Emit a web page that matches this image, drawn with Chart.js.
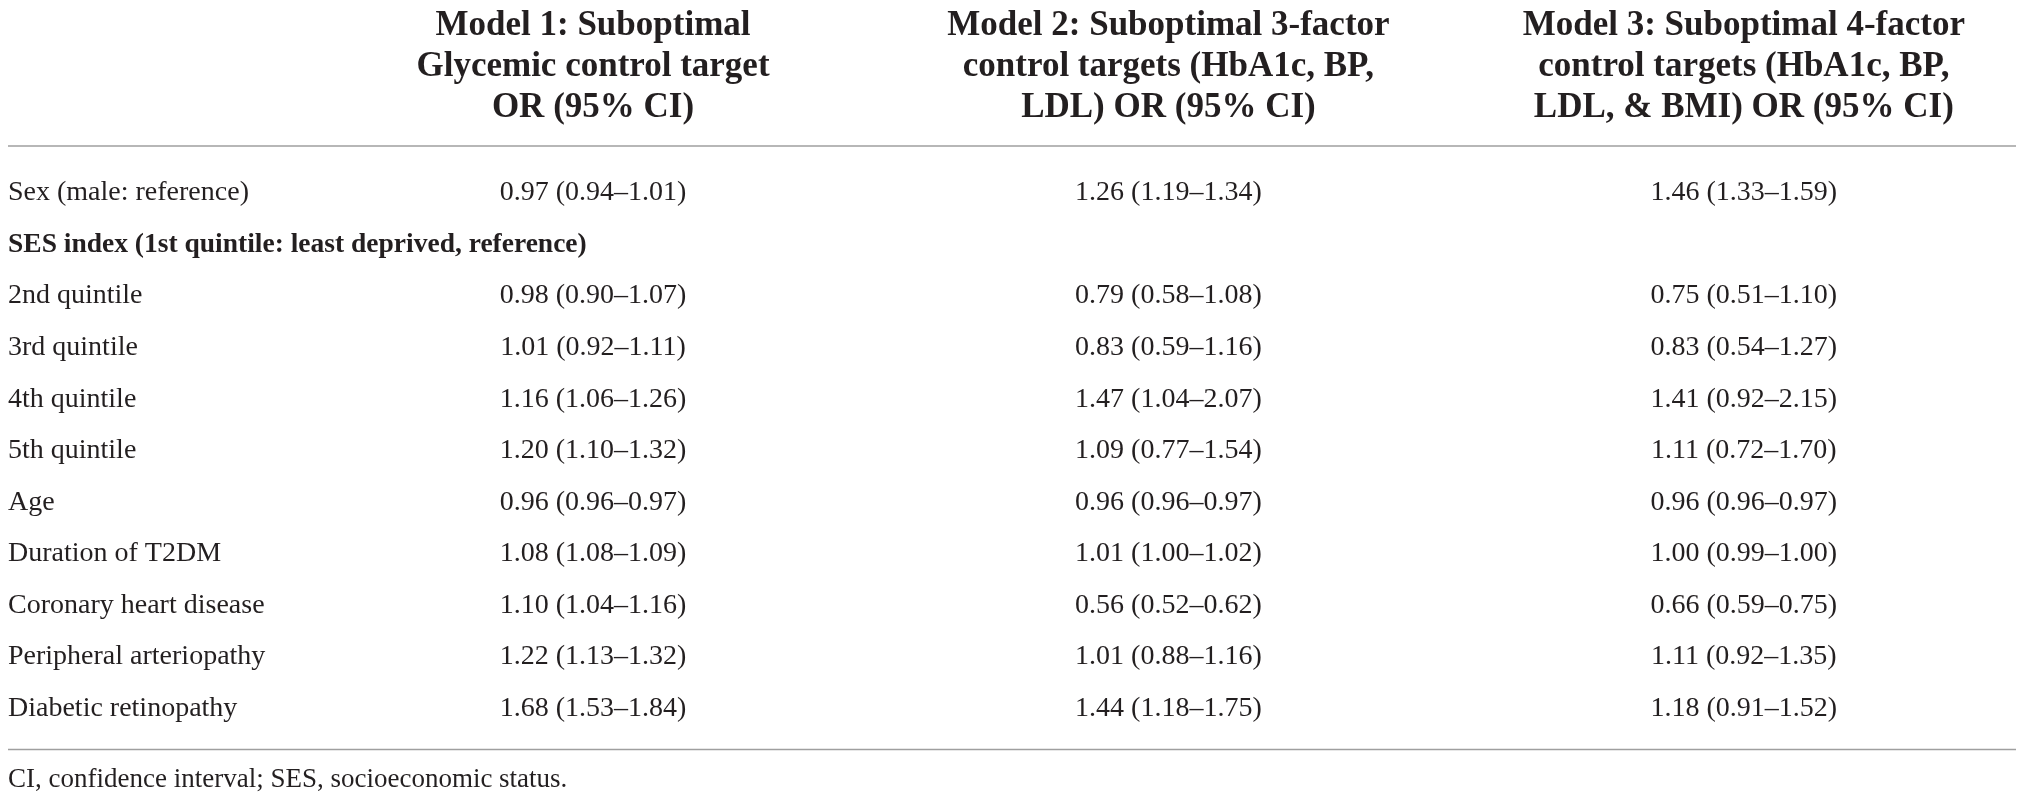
<!DOCTYPE html>
<html>
<head>
<meta charset="utf-8">
<title>Suboptimal control targets - OR (95% CI)</title>
<script src="https://cdn.jsdelivr.net/npm/chart.js@4.4.1/dist/chart.umd.min.js"></script>
<style>
  html, body { margin: 0; padding: 0; background: #ffffff; }
  canvas { display: block; }
</style>
</head>
<body>
<canvas id="tabela" width="2022" height="800"></canvas>
<script>
// Linhas da tabela (rótulos do eixo y)
const rowLabels = [
	"Sex (male: reference)",
	"SES index (1st quintile: least deprived, reference)",
	"2nd quintile",
	"3rd quintile",
	"4th quintile",
	"5th quintile",
	"Age",
	"Duration of T2DM",
	"Coronary heart disease",
	"Peripheral arteriopathy",
	"Diabetic retinopathy",
];
// Linhas de grupo (sem valores, em negrito)
const groupRows = ["SES index (1st quintile: least deprived, reference)"];

// Colunas (eixo x) e cabeçalhos
const models = ["Model 1", "Model 2", "Model 3"];
const modelHeaders = [
	["Model 1: Suboptimal", "Glycemic control target", "OR (95% CI)"],
	["Model 2: Suboptimal 3-factor", "control targets (HbA1c, BP,", "LDL) OR (95% CI)"],
	["Model 3: Suboptimal 4-factor", "control targets (HbA1c, BP,", "LDL, & BMI) OR (95% CI)"],
];

// Model 1: OR, limite inferior e superior
const m1OR = [0.97, null, 0.98, 1.01, 1.16, 1.20, 0.96, 1.08, 1.10, 1.22, 1.68];
const m1Lo = [0.94, null, 0.90, 0.92, 1.06, 1.10, 0.96, 1.08, 1.04, 1.13, 1.53];
const m1Hi = [1.01, null, 1.07, 1.11, 1.26, 1.32, 0.97, 1.09, 1.16, 1.32, 1.84];

// Model 2
const m2OR = [1.26, null, 0.79, 0.83, 1.47, 1.09, 0.96, 1.01, 0.56, 1.01, 1.44];
const m2Lo = [1.19, null, 0.58, 0.59, 1.04, 0.77, 0.96, 1.00, 0.52, 0.88, 1.18];
const m2Hi = [1.34, null, 1.08, 1.16, 2.07, 1.54, 0.97, 1.02, 0.62, 1.16, 1.75];

// Model 3
const m3OR = [1.46, null, 0.75, 0.83, 1.41, 1.11, 0.96, 1.00, 0.66, 1.11, 1.18];
const m3Lo = [1.33, null, 0.51, 0.54, 0.92, 0.72, 0.96, 0.99, 0.59, 0.92, 0.91];
const m3Hi = [1.59, null, 1.10, 1.27, 2.15, 1.70, 0.97, 1.00, 0.75, 1.35, 1.52];

const footnote = "CI, confidence interval; SES, socioeconomic status.";

const modelValues = [
	[m1OR, m1Lo, m1Hi],
	[m2OR, m2Lo, m2Hi],
	[m3OR, m3Lo, m3Hi],
];

const corTexto = "#231f20";
const corRegua = "#9f9f9f";
const fonte = "'Liberation Serif', 'DejaVu Serif', serif";

function formatCell(or, lo, hi) {
	return `${or.toFixed(2)} (${lo.toFixed(2)}–${hi.toFixed(2)})`;
}

// Um dataset por modelo: um ponto invisível por célula
const datasets = models.map((m) => ({
	label: m,
	data: rowLabels.map((r) => ({ x: m, y: r })),
	showLine: false,
	pointRadius: 0,
	pointHoverRadius: 0,
}));

// Plugin que escreve as células e as réguas horizontais
const tablePlugin = {
	id: "tablePlugin",
	afterDatasetsDraw(chart) {
		const ctx = chart.ctx;
		const area = chart.chartArea;
		ctx.save();
		ctx.font = `28px ${fonte}`;
		ctx.fillStyle = corTexto;
		ctx.textAlign = "center";
		ctx.textBaseline = "middle";
		chart.data.datasets.forEach((ds, k) => {
			const meta = chart.getDatasetMeta(k);
			const [or, lo, hi] = modelValues[k];
			meta.data.forEach((pt, j) => {
				if (or[j] == null) return;
				ctx.fillText(formatCell(or[j], lo[j], hi[j]), pt.x, pt.y);
			});
		});

		// Réguas
		ctx.strokeStyle = corRegua;
		ctx.lineWidth = 1.5;
		const x0 = 8;
		const x1 = chart.width - 6;
		[area.top - 47, area.bottom + 41].forEach((y) => {
			ctx.beginPath();
			ctx.moveTo(x0, y);
			ctx.lineTo(x1, y);
			ctx.stroke();
		});
		ctx.restore();
	},
};

let tabela = new Chart(document.getElementById("tabela"), {
	type: "line",
	data: {
		labels: models,
		datasets: datasets,
	},
	options: {
		responsive: false,
		animation: false,
		devicePixelRatio: 1,
		events: [],
		layout: {
			padding: { left: 8, right: 259, top: 0, bottom: 0 },
		},
		plugins: {
			legend: { display: false },
			tooltip: { enabled: false },
			title: {
				display: true,
				text: footnote,
				position: "bottom",
				align: "start",
				color: corTexto,
				font: { family: fonte, size: 27, weight: "normal", lineHeight: 1.2 },
				padding: { top: 55, bottom: 4 },
			},
		},
		scales: {
			x: {
				type: "category",
				position: "top",
				offset: false,
				grid: { display: false },
				border: { display: false },
				afterFit: (scale) => {
					scale.height = 193;
				},
				ticks: {
					autoSkip: false,
					maxRotation: 0,
					minRotation: 0,
					padding: 57,
					color: corTexto,
					font: { family: fonte, size: 35, weight: "bold", lineHeight: 1.17 },
					callback: (value, index) => modelHeaders[index],
				},
			},
			y: {
				type: "category",
				labels: rowLabels,
				offset: false,
				grid: { display: false },
				border: { display: false },
				afterFit: (scale) => {
					scale.width = 585;
				},
				ticks: {
					autoSkip: false,
					crossAlign: "far",
					padding: 0,
					color: corTexto,
					font: (c) => {
						const grupo = c.tick && groupRows.includes(rowLabels[c.index]);
						return {
							family: fonte,
							size: grupo ? 27.5 : 28,
							weight: grupo ? "bold" : "normal",
						};
					},
				},
			},
		},
	},
	plugins: [tablePlugin],
});
</script>
</body>
</html>
